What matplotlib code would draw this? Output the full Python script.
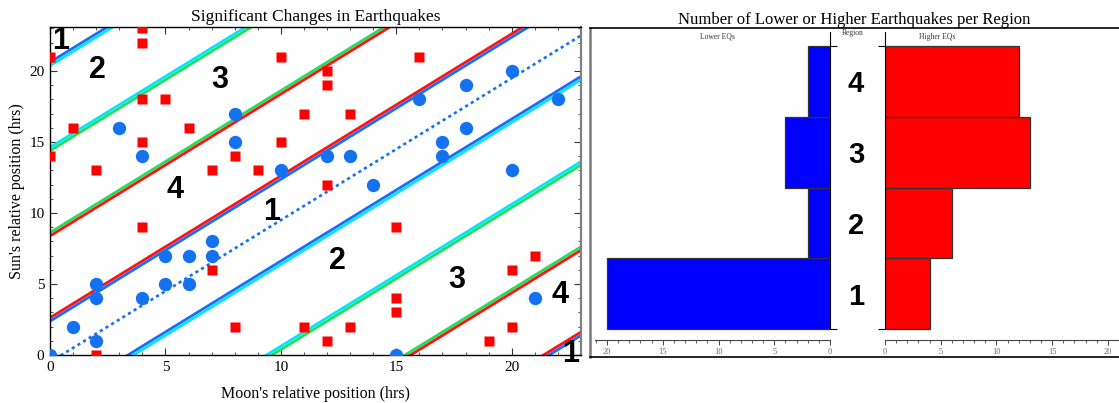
import numpy as np
import matplotlib
matplotlib.use("Agg")
import matplotlib.pyplot as plt
from matplotlib.ticker import MultipleLocator
from matplotlib.transforms import blended_transform_factory

# --- data ---
# earthquakes with a lower / higher value, (moon hrs, sun hrs)
lower_moon = [3, 4, 8, 8, 10, 16, 18, 20, 22, 18, 17, 17, 12, 13, 14, 20,
              0, 1, 2, 2, 2, 4, 5, 5, 6, 6, 7, 7, 15, 21]
lower_sun = [16, 14, 17, 15, 13, 18, 19, 20, 18, 16, 15, 14, 14, 14, 12, 13,
             0, 2, 5, 4, 1, 4, 7, 5, 7, 5, 8, 7, 0, 4]
higher_moon = [0, 0, 4, 4, 4, 5, 1, 6, 4, 2, 7, 8, 9, 10, 10, 11, 12, 12,
               13, 16, 12, 4, 7, 8, 11, 2, 15, 15, 15, 13, 12, 20, 21, 20, 19]
higher_sun = [21, 14, 23, 22, 18, 18, 16, 16, 15, 13, 13, 14, 13, 21, 15, 17, 20, 19,
              17, 21, 12, 9, 6, 2, 2, 0, 9, 4, 3, 2, 1, 6, 7, 2, 1]

# boundary lines sun = moon + offset, each drawn as a pair of colours (upper, lower)
boundary_offsets = [20.5, 14.5, 8.5, 2.5, -3.5, -9.5, -15.5, -21.5]
boundary_colors = [("blue", "cyan"), ("cyan", "green"), ("green", "red"), ("red", "blue"),
                   ("blue", "cyan"), ("cyan", "green"), ("green", "red"), ("red", "blue")]
center_offset = -0.5

# region labels in the scatter
label_text = ["1", "2", "3", "4", "1", "2", "3", "4", "1"]
label_x = [0.48, 2.06, 7.34, 5.43, 9.6, 12.47, 17.6, 22.08, 22.55]
label_y = [22.1, 20.1, 19.4, 11.6, 10.1, 6.6, 5.3, 4.2, 0.1]

# counts per region
regions = [1, 2, 3, 4]
lower_counts = [20, 2, 4, 2]
higher_counts = [4, 6, 13, 12]

palette = {"blue": "#1a6cff", "cyan": "#00e6ff", "green": "#1ee05a", "red": "#ff1212"}
dot_blue = "#1472f0"
serif = "Liberation Serif"
sans = "Liberation Sans"

W, H = 1119, 403
fig = plt.figure(figsize=(W / 100, H / 100), dpi=100)


def box(x0, y0, x1, y1):
    # pixel box (top-left origin) -> figure fraction rect
    return [x0 / W, (H - y1) / H, (x1 - x0) / W, (y1 - y0) / H]


# ==================== left: scatter ====================
ax = fig.add_axes(box(50, 27, 581, 355))
ax.set_xlim(0, 23)
ax.set_ylim(0, 23.1)

xx = np.array([-1.0, 25.0])
d = 0.12
for off, (cu, cl) in zip(boundary_offsets, boundary_colors):
    ax.plot(xx, xx + off + d, color=palette[cu], lw=2.0, solid_capstyle="butt", zorder=2)
    ax.plot(xx, xx + off - d, color=palette[cl], lw=2.0, solid_capstyle="butt", zorder=2)
ax.plot(xx, xx + center_offset, color=dot_blue, lw=1.9, linestyle=(0, (1.2, 1.3)), zorder=2)

ax.plot(higher_moon, higher_sun, linestyle="none", marker="s", ms=7.2,
        color="#ff0000", mec="none", zorder=3)
ax.plot(lower_moon, lower_sun, linestyle="none", marker="o", ms=9.6,
        color=dot_blue, mec="none", zorder=3)

for t, x, y in zip(label_text, label_x, label_y):
    ax.text(x, y, t, fontsize=22, fontweight="bold", family=sans,
            ha="center", va="center", clip_on=False, zorder=4)

ax.xaxis.set_major_locator(MultipleLocator(5))
ax.xaxis.set_minor_locator(MultipleLocator(1))
ax.yaxis.set_major_locator(MultipleLocator(5))
ax.yaxis.set_minor_locator(MultipleLocator(1))
ax.tick_params(which="both", direction="in", top=True, right=True, color="#333333")
ax.tick_params(which="major", length=5, width=0.8, labelsize=11, pad=4)
ax.tick_params(which="minor", length=2.5, width=0.6)
for lab in ax.get_xticklabels() + ax.get_yticklabels():
    lab.set_family(serif)
ax.spines["right"].set_color("#808080")
ax.spines["right"].set_linewidth(1.6)
for s in ["left", "top", "bottom"]:
    ax.spines[s].set_linewidth(1.0)

ax.set_title("Significant Changes in Earthquakes", family=serif, fontsize=12.5, pad=4)
ax.set_xlabel("Moon's relative position (hrs)", family=serif, fontsize=11.5, labelpad=9)
ax.set_ylabel("Sun's relative position (hrs)", family=serif, fontsize=11.5, labelpad=3)

# ==================== right: frame around the two histograms ====================
frame = fig.add_axes(box(590, 28, 1119, 357))
frame.set_xticks([])
frame.set_yticks([])
frame.patch.set_alpha(0)
frame.spines["right"].set_visible(False)
frame.spines["left"].set_color("#7a7a7a")
frame.spines["left"].set_linewidth(1.8)
frame.spines["top"].set_linewidth(1.2)
frame.spines["bottom"].set_linewidth(1.2)
frame.set_title("Number of Lower or Higher Earthquakes per Region",
                family=serif, fontsize=12, pad=3)

ylo, yhi = -0.155, 4.2
ypos = [r - 0.5 for r in regions]

ax_lo = fig.add_axes(box(595, 32, 830, 340))
ax_lo.barh(ypos, lower_counts, height=1.0, color="#0000ff", edgecolor="#333333", lw=0.9)
ax_lo.set_xlim(21.08, 0)
ax_lo.set_ylim(ylo, yhi)

ax_hi = fig.add_axes(box(885, 32, 1119, 340))
ax_hi.barh(ypos, higher_counts, height=1.0, color="#ff0000", edgecolor="#333333", lw=0.9)
ax_hi.set_xlim(0, 21)
ax_hi.set_ylim(ylo, yhi)

for a, side in [(ax_lo, "right"), (ax_hi, "left")]:
    a.patch.set_alpha(0)
    for s in ["top", "left", "right"]:
        if s != side:
            a.spines[s].set_visible(False)
    a.spines[side].set_bounds(0, yhi)
    a.spines[side].set_linewidth(0.8)
    a.spines["bottom"].set_linewidth(0.8)
    a.spines["bottom"].set_color("#444444")
    a.set_yticks([0, 4])
    a.set_yticklabels([])
    if side == "right":
        a.yaxis.tick_right()
    else:
        a.yaxis.tick_left()
    a.tick_params(axis="y", direction="out", length=5, width=0.8)
    a.xaxis.set_major_locator(MultipleLocator(5))
    a.xaxis.set_minor_locator(MultipleLocator(1))
    a.tick_params(axis="x", which="major", direction="out", length=3.5, width=0.7,
                  labelsize=6, labelcolor="#666666", pad=2, color="#444444")
    a.tick_params(axis="x", which="minor", direction="out", length=1.8, width=0.6,
                  color="#444444")
    for lab in a.get_xticklabels():
        lab.set_family(serif)

ax_lo.text(0.523, 0.985, "Lower EQs", transform=ax_lo.transAxes, family=serif,
           fontsize=5.5, ha="center", va="center", color="#333333")
ax_hi.text(0.222, 0.985, "Higher EQs", transform=ax_hi.transAxes, family=serif,
           fontsize=5.5, ha="center", va="center", color="#333333")
fig.text(853 / W, (H - 33) / H, "Region", family=serif, fontsize=5.5,
         ha="center", va="center", color="#333333")

trans = blended_transform_factory(fig.transFigure, ax_lo.transData)
for r, y in zip(regions, ypos):
    fig.text(856 / W, y - 0.04, str(r), transform=trans, fontsize=21,
             fontweight="bold", family=sans, ha="center", va="center")

fig.savefig("out.png", dpi=100)
